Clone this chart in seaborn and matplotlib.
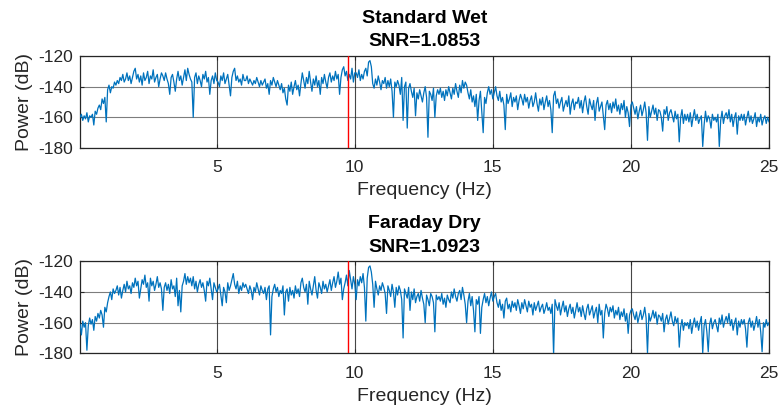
import numpy as np
import pandas as pd
import matplotlib
matplotlib.use("Agg")
import matplotlib.pyplot as plt
import seaborn as sns

# ---- data (power in dB, 0.05 Hz bins from 0.05 to 25 Hz) ----
freq_start, freq_stop, n_bins = 0.05, 25.0, 500

wet_power = [
    -160,-158,-162,-159,-161,-157,-163,-159,-160,-158,-165,-156,-158,-154,-152,-155,-148,-151,-147,-163,
    -142,-139,-144,-140,-141,-137,-139,-136,-138,-134,-136,-132,-137,-135,-131,-136,-133,-138,-134,-130,
    -128,-135,-132,-137,-133,-139,-131,-136,-134,-130,-138,-133,-135,-129,-137,-134,-132,-140,-135,-131,
    -133,-136,-131,-135,-138,-145,-134,-132,-137,-143,-135,-130,-136,-133,-139,-134,-129,-136,-128,-132,
    -135,-137,-160,-134,-131,-138,-133,-136,-140,-132,-135,-130,-137,-134,-145,-136,-133,-138,-131,-136,
    -137,-140,-133,-136,-131,-138,-135,-132,-139,-146,-134,-130,-128,-136,-133,-137,-135,-139,-132,-136,
    -136,-133,-138,-135,-137,-139,-136,-138,-134,-137,-140,-136,-139,-137,-135,-141,-138,-145,-136,-139,
    -134,-137,-140,-136,-139,-142,-138,-144,-141,-148,-152,-139,-143,-137,-145,-140,-136,-142,-139,-146,
    -138,-131,-136,-141,-134,-138,-130,-137,-143,-135,-139,-133,-140,-136,-145,-134,-138,-132,-137,-141,
    -134,-131,-137,-133,-136,-130,-135,-132,-145,-134,-129,-127,-133,-130,-136,-132,-135,-128,-137,-131,
    -131,-134,-129,-136,-132,-135,-130,-128,-133,-124,-123,-127,-138,-141,-135,-139,-133,-137,-142,-136,
    -138,-134,-141,-136,-140,-135,-143,-160,-137,-140,-136,-139,-145,-134,-162,-140,-137,-167,-141,-138,
    -143,-147,-141,-159,-144,-148,-142,-146,-150,-144,-140,-147,-173,-143,-145,-149,-141,-160,-146,-142,
    -145,-141,-147,-143,-149,-142,-146,-140,-144,-148,-141,-145,-138,-143,-147,-139,-144,-136,-141,-137,
    -139,-144,-148,-142,-150,-146,-153,-145,-162,-149,-143,-156,-170,-147,-151,-144,-140,-145,-142,-148,
    -144,-140,-146,-149,-143,-150,-147,-152,-168,-145,-151,-148,-144,-153,-147,-150,-146,-155,-149,-145,
    -148,-152,-145,-150,-147,-154,-149,-146,-153,-150,-144,-151,-156,-148,-152,-147,-155,-150,-146,-153,
    -149,-155,-170,-146,-143,-151,-148,-154,-150,-147,-156,-152,-149,-153,-146,-158,-151,-148,-155,-150,
    -151,-147,-154,-149,-157,-150,-146,-153,-158,-148,-152,-155,-149,-162,-151,-147,-156,-153,-150,-159,
    -168,-152,-149,-155,-151,-157,-150,-154,-148,-156,-152,-158,-151,-155,-149,-160,-153,-157,-166,-152,
    -150,-154,-158,-153,-161,-156,-152,-159,-155,-150,-157,-175,-153,-160,-156,-152,-158,-154,-162,-155,
    -156,-160,-169,-155,-158,-153,-162,-157,-155,-159,-163,-156,-161,-158,-176,-160,-155,-164,-158,-162,
    -158,-163,-157,-166,-160,-155,-162,-158,-164,-161,-159,-179,-165,-156,-163,-159,-161,-167,-158,-162,
    -160,-163,-158,-179,-162,-156,-164,-159,-157,-161,-155,-163,-158,-166,-160,-157,-171,-159,-162,-158,
    -162,-158,-165,-160,-156,-163,-159,-164,-161,-157,-166,-160,-163,-158,-165,-161,-159,-164,-160,-163,
]

dry_power = [
    -161,-168,-159,-163,-160,-178,-162,-157,-161,-158,-165,-156,-159,-154,-157,-152,-155,-163,-150,-153,
    -147,-143,-140,-145,-138,-141,-139,-136,-142,-137,-144,-139,-135,-140,-133,-138,-136,-141,-134,-137,
    -131,-136,-133,-144,-138,-132,-135,-129,-137,-134,-146,-131,-136,-133,-139,-135,-130,-137,-134,-138,
    -152,-137,-134,-139,-135,-141,-132,-138,-136,-143,-131,-149,-139,-153,-136,-133,-128,-135,-130,-134,
    -131,-136,-130,-138,-133,-140,-135,-132,-137,-134,-139,-146,-133,-136,-131,-138,-145,-134,-137,-140,
    -138,-135,-142,-149,-137,-140,-147,-134,-139,-136,-132,-128,-135,-138,-133,-141,-136,-139,-134,-137,
    -135,-138,-141,-136,-139,-145,-137,-140,-134,-138,-142,-136,-139,-141,-137,-145,-138,-136,-168,-143,
    -138,-135,-140,-137,-143,-139,-141,-136,-155,-140,-138,-146,-137,-142,-139,-144,-136,-141,-138,-143,
    -134,-131,-137,-140,-135,-148,-133,-138,-142,-136,-130,-139,-144,-134,-137,-141,-133,-138,-135,-140,
    -136,-132,-139,-134,-130,-137,-133,-127,-135,-131,-145,-138,-134,-129,-136,-126,-132,-138,-130,-135,
    -145,-132,-136,-130,-134,-128,-137,-159,-131,-124,-123,-127,-135,-150,-133,-138,-142,-136,-139,-134,
    -137,-141,-154,-136,-139,-143,-135,-140,-150,-137,-142,-136,-139,-145,-170,-138,-141,-144,-137,-152,
    -140,-145,-138,-147,-143,-141,-146,-139,-144,-148,-160,-142,-145,-149,-141,-143,-147,-166,-142,-145,
    -143,-146,-141,-148,-144,-150,-142,-145,-147,-140,-144,-138,-143,-146,-141,-139,-145,-137,-142,-148,
    -160,-146,-141,-149,-143,-152,-166,-145,-148,-143,-167,-150,-145,-141,-147,-143,-149,-144,-140,-146,
    -143,-141,-147,-150,-145,-152,-148,-157,-146,-144,-151,-148,-153,-146,-150,-147,-152,-145,-149,-154,
    -147,-151,-145,-149,-153,-146,-150,-148,-155,-147,-152,-149,-146,-153,-150,-148,-154,-151,-147,-152,
    -150,-154,-148,-181,-145,-149,-152,-147,-155,-150,-146,-153,-149,-156,-151,-148,-154,-150,-157,-152,
    -147,-153,-150,-156,-149,-154,-158,-151,-148,-155,-152,-149,-157,-153,-150,-160,-148,-155,-152,-170,
    -154,-148,-151,-156,-150,-153,-149,-157,-152,-155,-150,-158,-153,-156,-151,-159,-154,-167,-155,-152,
    -151,-155,-158,-153,-160,-156,-152,-158,-155,-150,-157,-180,-154,-159,-156,-152,-157,-153,-161,-155,
    -156,-159,-154,-166,-158,-155,-161,-157,-153,-159,-162,-156,-160,-157,-176,-163,-158,-165,-160,-162,
    -160,-164,-158,-167,-161,-157,-163,-159,-165,-160,-156,-180,-162,-158,-166,-179,-161,-157,-164,-160,
    -158,-162,-166,-157,-161,-155,-163,-159,-156,-160,-154,-162,-158,-165,-160,-157,-168,-159,-163,-158,
    -161,-158,-164,-176,-160,-157,-163,-159,-165,-161,-156,-163,-158,-166,-179,-160,-163,-158,-162,-160,
]

titles = ["Standard Wet\nSNR=1.0853", "Faraday Dry\nSNR=1.0923"]
marker_freq = 9.77
x_ticks = [5, 10, 15, 20, 25]
y_ticks = [-180, -160, -140, -120]

freq = np.linspace(freq_start, freq_stop, n_bins)

# ---- style ----
sns.set_style("ticks")
plt.rcParams['font.family'] = ['Liberation Sans', 'DejaVu Sans']
plt.rcParams['axes.unicode_minus'] = False

fig = plt.figure(figsize=(7.82, 4.13), dpi=100)
W, H = 782, 413
boxes = [(80, 56, 769, 148), (80, 261.3, 769, 353.3)]
line_color = "#0072BD"

for (x0, y0, x1, y1), title, power in zip(boxes, titles, [wet_power, dry_power]):
    ax = fig.add_axes([x0 / W, 1 - y1 / H, (x1 - x0) / W, (y1 - y0) / H])
    df = pd.DataFrame({"Frequency (Hz)": freq, "Power (dB)": power})
    sns.lineplot(data=df, x="Frequency (Hz)", y="Power (dB)", ax=ax,
                 color=line_color, linewidth=0.9, estimator=None, zorder=3)
    ax.axvline(marker_freq, color="#FF0000", linewidth=1.0, zorder=4)
    ax.set_xlim(freq_start, freq_stop)
    ax.set_ylim(-180, -120)
    ax.set_xticks(x_ticks)
    ax.set_yticks(y_ticks)
    ax.grid(True, axis="x", color="#262626", linewidth=0.8, alpha=0.85, zorder=1)
    ax.grid(True, axis="y", color="#262626", linewidth=0.8, alpha=0.6, zorder=1)
    for s in ax.spines.values():
        s.set_visible(True)
        s.set_color("#262626")
        s.set_linewidth(0.9)
    ax.tick_params(direction="in", length=3, width=0.8, colors="#262626",
                   labelsize=12.5, top=True, right=True)
    ax.tick_params(axis="x", pad=9)
    ax.tick_params(axis="y", pad=5)
    ax.set_xlabel("Frequency (Hz)", fontsize=14, color="#262626", labelpad=5)
    ax.set_ylabel("Power (dB)", fontsize=14, color="#262626", labelpad=4)
    ax.set_title(title, fontsize=14, fontweight="bold", color="black", pad=7,
                 linespacing=1.5)

fig.savefig("out.png", dpi=100)
